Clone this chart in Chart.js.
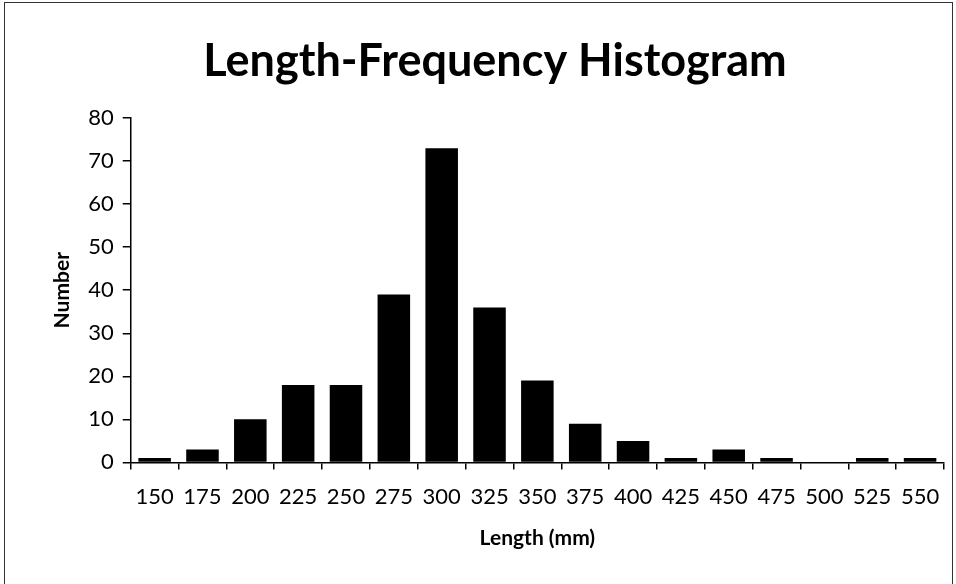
<!DOCTYPE html>
<html>
<head>
<meta charset="utf-8">
<script src="https://cdn.jsdelivr.net/npm/chart.js@4/dist/chart.umd.min.js"></script>
<style>
  html, body { margin: 0; padding: 0; background: #fff; }
  #frame { position: absolute; left: 4px; top: 2px; width: 947px; height: 590px; border: 1px solid #333; }
  #wrap { position: absolute; left: 0; top: 0; width: 956px; height: 584px; }
</style>
</head>
<body>
<div id="frame"></div>
<div id="wrap"><canvas id="hist" width="956" height="584"></canvas></div>
<script>
const lengths = ['150', '175', '200', '225', '250', '275', '300', '325', '350', '375', '400', '425', '450', '475', '500', '525', '550'];
const counts = [1, 3, 10, 18, 18, 39, 73, 36, 19, 9, 5, 1, 3, 1, 0, 1, 1];
const yTicks = [0, 10, 20, 30, 40, 50, 60, 70, 80];

const fontFam = 'Lato, "Open Sans", sans-serif';

const ctx = document.querySelector('#hist');
const histChart = new Chart(ctx, {
  type: 'bar',
  data: {
    labels: lengths,
    datasets: [{
      label: 'Number',
      data: counts,
      backgroundColor: '#000',
      borderWidth: 0,
      barPercentage: 0.68,
      categoryPercentage: 1.0
    }]
  },
  options: {
    responsive: false,
    animation: false,
    layout: { padding: { left: 46, right: 12, top: 34, bottom: 29 } },
    plugins: {
      legend: { display: false },
      tooltip: { enabled: false },
      title: {
        display: true,
        text: 'Length-Frequency Histogram',
        color: '#000',
        font: { family: fontFam, size: 45, weight: 'bold' },
        padding: { top: 0, bottom: 30 }
      }
    },
    scales: {
      x: {
        offset: true,
        grid: { display: true, offset: true, drawOnChartArea: false, color: '#000', tickLength: 7, lineWidth: 1.5 },
        border: { color: '#000', width: 1.5 },
        ticks: { color: '#000', font: { family: fontFam, size: 22 }, maxRotation: 0, autoSkip: false, padding: 14 },
        title: { display: true, text: 'Length (mm)', color: '#000', font: { family: fontFam, size: 21, weight: 'bold' }, padding: { top: 2 } }
      },
      y: {
        min: 0,
        max: 80,
        afterBuildTicks: axis => { axis.ticks = yTicks.map(v => ({ value: v })); },
        grid: { display: true, drawOnChartArea: false, color: '#000', tickLength: 8, lineWidth: 1.5 },
        border: { color: '#000', width: 1.5 },
        ticks: { color: '#000', font: { family: fontFam, size: 22 }, padding: 9 },
        title: { display: true, text: 'Number', color: '#000', font: { family: fontFam, size: 21, weight: 'bold' }, padding: { bottom: 4 } }
      }
    }
  }
});
</script>
</body>
</html>
